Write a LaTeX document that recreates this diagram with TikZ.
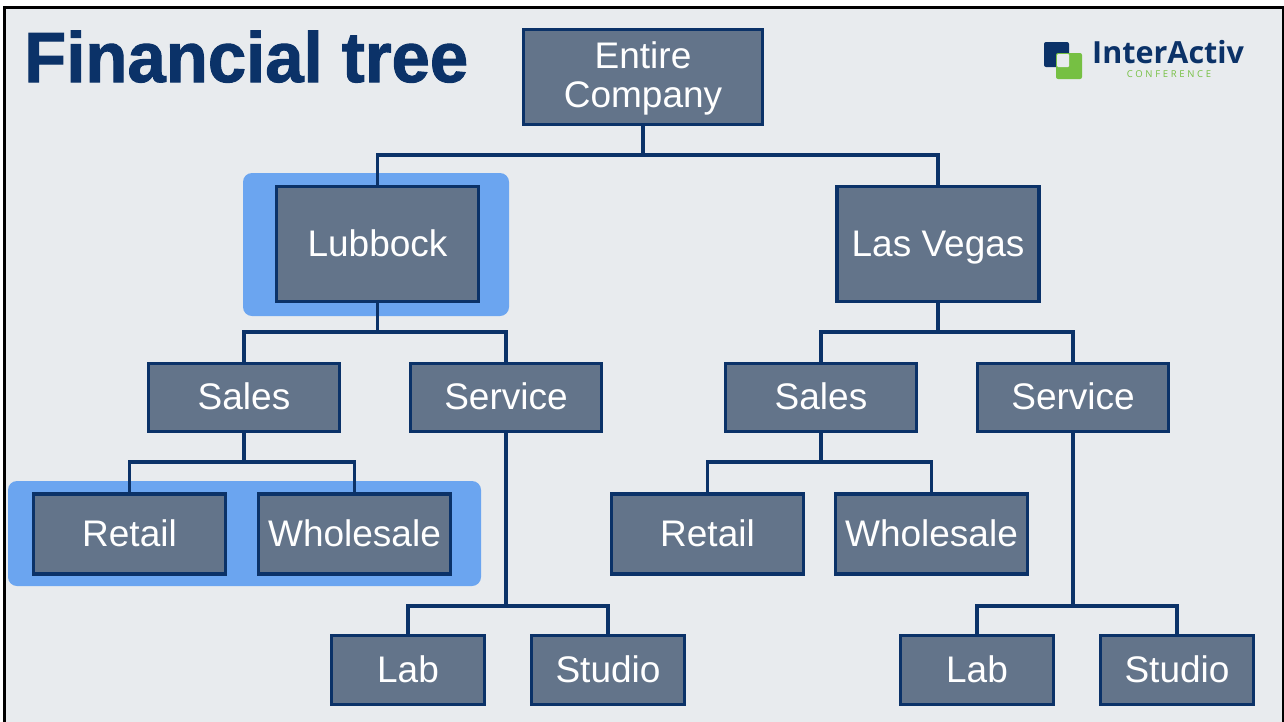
\documentclass[tikz,border=0pt]{standalone}
\usepackage{fontspec}
\setmainfont{Liberation Sans}
\newfontfamily\titlefont{Liberation Sans}[BoldFeatures={FakeBold=1.4, FakeStretch=0.97}]
\newfontfamily\logofont{Open Sans}
\newfontfamily\conffont{Open Sans}[LetterSpace=28]
\usetikzlibrary{positioning, backgrounds}
\definecolor{navy}{HTML}{0B3268}
\definecolor{slate}{HTML}{63748A}
\definecolor{sky}{HTML}{6BA5F0}
\definecolor{paper}{HTML}{E8EBEE}
\definecolor{leaf}{HTML}{76C043}
\tikzset{
x=1pt, y=-1pt,
branch/.style={draw=navy, line width=3.1pt}, % the lines between the boxes
box/.style={draw=navy, line width=3.1pt, fill=slate, text=white, font=\fontsize{37}{39}\selectfont, align=center, inner sep=0pt, outer sep=0pt, text height=30pt, text depth=6pt, minimum width=202pt, minimum height=115pt}, % the big boxes
midbox/.style={box, minimum width=191pt, minimum height=68pt}, % Sales and Service
lowbox/.style={box, minimum width=192pt, minimum height=80pt}, % Retail and Wholesale
smallbox/.style={box, minimum width=153pt, minimum height=69pt}, % Lab and Studio
glow/.style={fill=sky, rounded corners=9pt, inner sep=0pt},
}

\begin{document}
\begin{tikzpicture}
            \useasboundingbox (0,0) rectangle (1284,721);

            \node[anchor=base west, inner sep=0pt, text=navy, font=\fontsize{71}{80}\titlefont\bfseries] (title) at (24,82) {Financial tree};

            \node[box, minimum width=239pt, minimum height=95pt, text height=66pt] (top) at (643,77) {Entire\\Company};
            \node[box] (lub) at (377.5,244) {Lubbock};
            \node[box, right=358.5pt of lub] (veg) {Las Vegas};

            \node[midbox] (salesa) at (244,397.5) {Sales};
            \node[midbox, right=71pt of salesa] (serva) {Service};
            \node[midbox, right=124pt of serva] (salesb) {Sales};
            \node[midbox, right=61pt of salesb] (servb) {Service};

            \node[lowbox] (reta) at (129.5,534) {Retail};
            \node[lowbox, right=33pt of reta] (whoa) {Wholesale};
            \node[lowbox, right=161pt of whoa] (retb) {Retail};
            \node[lowbox, right=32pt of retb] (whob) {Wholesale};

            \node[smallbox] (laba) at (408,670) {Lab};
            \node[smallbox, right=47pt of laba] (stua) {Studio};
            \node[smallbox, right=216pt of stua] (labb) {Lab};
            \node[smallbox, right=47pt of labb] (stub) {Studio};

            \begin{scope}[on background layer]
            \fill[white] (0,0) rectangle (1284,721);
            \draw[line width=3pt, fill=paper] (4.5,7.5) rectangle (1283,730);
            \node[glow, minimum width=266pt, minimum height=143pt] (glowa) at (376,244.5) {};
            \node[glow, minimum width=473pt, minimum height=105pt] (glowb) at (244.5,533.5) {};
            \end{scope}

            \draw[branch] (top.south) -- ++(0,30.5) -| (lub.north);
            \draw[branch] (top.south) -- ++(0,30.5) -| (veg.north);
            \draw[branch] (lub.south) -- ++(0,30.5) -| (salesa.north);
            \draw[branch] (lub.south) -- ++(0,30.5) -| (serva.north);
            \draw[branch] (veg.south) -- ++(0,30.5) -| (salesb.north);
            \draw[branch] (veg.south) -- ++(0,30.5) -| (servb.north);
            \draw[branch] (salesa.south) -- ++(0,30.5) -| (reta.north);
            \draw[branch] (salesa.south) -- ++(0,30.5) -| (whoa.north);
            \draw[branch] (salesb.south) -- ++(0,30.5) -| (retb.north);
            \draw[branch] (salesb.south) -- ++(0,30.5) -| (whob.north);
            \draw[branch] (serva.south) -- ++(0,174.5) -| (laba.north);
            \draw[branch] (serva.south) -- ++(0,174.5) -| (stua.north);
            \draw[branch] (servb.south) -- ++(0,174.5) -| (labb.north);
            \draw[branch] (servb.south) -- ++(0,174.5) -| (stub.north);

            % logo
            \fill[navy, rounded corners=2pt] (1044,42) rectangle (1069,67);
            \fill[leaf, rounded corners=2pt] (1056,53) rectangle (1082,79);
            \fill[paper, rounded corners=1pt] (1057,54) rectangle (1069,67);
            \node[anchor=base west, inner sep=0pt, text=navy, font=\fontsize{30.5}{32}\logofont\bfseries] (logo) at (1092,63.5) {InterActiv};
            \node[anchor=base, inner sep=0pt, text=leaf, font=\fontsize{9.5}{10}\conffont] (conf) at (1169,77.5) {CONFERENCE};
\end{tikzpicture}
\end{document}
